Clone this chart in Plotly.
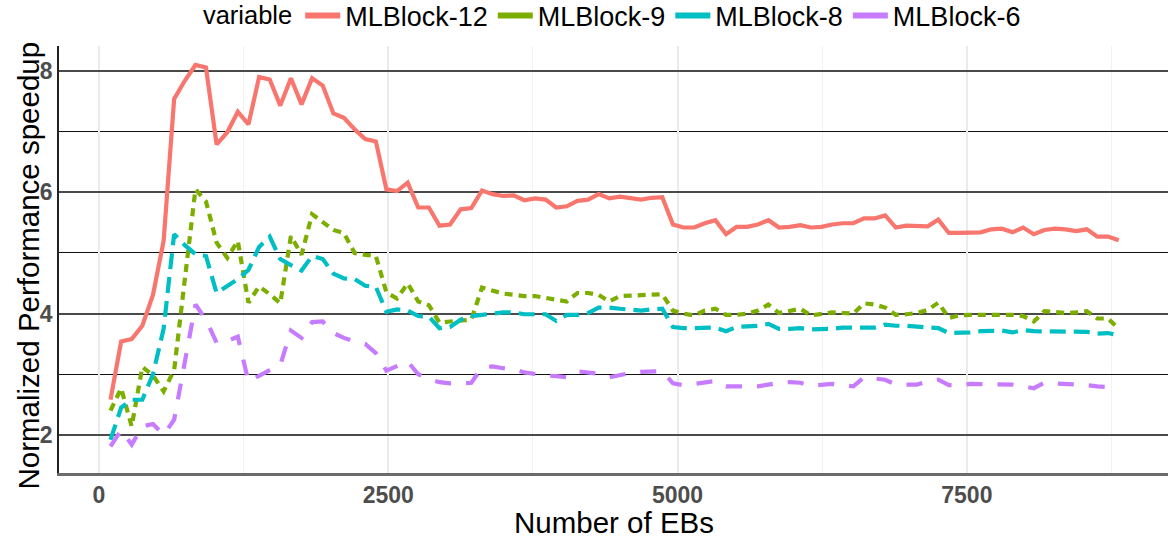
import plotly.graph_objects as go

num_ebs = [100, 192, 283, 375, 467, 559, 650, 742, 834, 925, 1017, 1109, 1200, 1292, 1384, 1476,
           1567, 1659, 1751, 1842, 1934, 2026, 2117, 2209, 2301, 2393, 2484, 2576, 2668, 2759,
           2851, 2943, 3034, 3126, 3218, 3310, 3401, 3493, 3585, 3676, 3768, 3860, 3951, 4043,
           4135, 4227, 4318, 4410, 4502, 4593, 4685, 4777, 4868, 4960, 5052, 5144, 5235, 5327,
           5419, 5510, 5602, 5694, 5785, 5877, 5969, 6061, 6152, 6244, 6336, 6427, 6519, 6611,
           6702, 6794, 6886, 6978, 7069, 7161, 7253, 7344, 7436, 7528, 7619, 7711, 7803, 7895,
           7986, 8078, 8170, 8261, 8353, 8445, 8536, 8628, 8720, 8812]

mlblock_12 = [2.58, 3.54, 3.58, 3.80, 4.31, 5.20, 7.54, 7.84, 8.10, 8.06, 6.79, 6.99, 7.33, 7.12,
              7.90, 7.86, 7.43, 7.88, 7.45, 7.88, 7.76, 7.30, 7.23, 7.04, 6.88, 6.84, 6.05, 6.02,
              6.16, 5.75, 5.75, 5.45, 5.47, 5.72, 5.74, 6.03, 5.97, 5.94, 5.95, 5.87, 5.90, 5.88,
              5.75, 5.77, 5.86, 5.88, 5.97, 5.90, 5.93, 5.90, 5.88, 5.91, 5.92, 5.47, 5.42, 5.42,
              5.49, 5.54, 5.31, 5.43, 5.43, 5.47, 5.54, 5.42, 5.43, 5.46, 5.42, 5.43, 5.47, 5.49,
              5.49, 5.57, 5.57, 5.62, 5.42, 5.45, 5.45, 5.44, 5.55, 5.33, 5.33, 5.34, 5.34, 5.39,
              5.40, 5.34, 5.42, 5.31, 5.38, 5.40, 5.39, 5.36, 5.39, 5.27, 5.27, 5.21]

mlblock_9 = [2.40, 2.77, 2.14, 3.12, 2.98, 2.72, 3.07, 4.56, 6.05, 5.85, 5.17, 4.92, 5.20, 4.18,
             4.45, 4.32, 4.17, 5.28, 4.97, 5.64, 5.50, 5.38, 5.33, 5.00, 4.97, 4.95, 4.35, 4.25,
             4.50, 4.20, 4.14, 3.85, 3.87, 3.88, 3.90, 4.43, 4.38, 4.33, 4.31, 4.29, 4.29, 4.26,
             4.23, 4.20, 4.34, 4.34, 4.31, 4.20, 4.29, 4.30, 4.31, 4.32, 4.32, 4.05, 4.00, 3.97,
             4.05, 4.08, 3.98, 3.98, 4.00, 4.05, 4.15, 4.01, 4.05, 4.08, 3.97, 3.99, 4.02, 4.01,
             4.00, 4.17, 4.15, 4.10, 3.98, 3.99, 4.01, 4.06, 4.18, 3.93, 3.97, 3.98, 3.98, 3.97,
             3.97, 3.98, 3.96, 3.87, 4.04, 4.03, 4.01, 4.02, 4.04, 3.92, 3.92, 3.75]

mlblock_8 = [1.92, 2.45, 2.58, 2.58, 3.00, 3.75, 5.31, 5.13, 4.98, 4.95, 4.34, 4.45, 4.57, 4.72,
             5.10, 5.27, 4.90, 4.80, 4.71, 4.95, 4.90, 4.66, 4.58, 4.57, 4.46, 4.44, 4.03, 4.07,
             4.05, 3.96, 3.95, 3.76, 3.78, 3.90, 3.96, 3.98, 4.00, 4.02, 4.02, 3.99, 3.99, 3.99,
             3.88, 3.98, 3.98, 4.01, 4.10, 4.10, 4.08, 4.06, 4.05, 4.07, 4.08, 3.78, 3.76, 3.76,
             3.77, 3.77, 3.71, 3.78, 3.79, 3.80, 3.83, 3.75, 3.75, 3.76, 3.74, 3.74, 3.75, 3.77,
             3.77, 3.77, 3.77, 3.82, 3.80, 3.80, 3.79, 3.78, 3.76, 3.68, 3.68, 3.69, 3.71, 3.72,
             3.72, 3.69, 3.73, 3.71, 3.71, 3.71, 3.71, 3.71, 3.70, 3.67, 3.68, 3.64]

mlblock_6 = [1.81, 2.08, 1.84, 2.14, 2.18, 2.00, 2.25, 3.17, 4.15, 3.90, 3.52, 3.55, 3.62, 2.88,
             2.98, 3.07, 3.15, 3.72, 3.60, 3.86, 3.87, 3.68, 3.60, 3.54, 3.50, 3.35, 3.06, 3.13,
             3.21, 3.00, 2.92, 2.87, 2.85, 2.85, 2.86, 3.11, 3.13, 3.10, 3.08, 3.03, 3.00, 2.98,
             2.97, 2.95, 3.05, 3.03, 3.01, 2.95, 2.99, 3.02, 3.04, 3.05, 3.05, 2.85, 2.82, 2.84,
             2.87, 2.89, 2.80, 2.80, 2.79, 2.80, 2.83, 2.86, 2.87, 2.86, 2.81, 2.82, 2.84, 2.82,
             2.80, 2.95, 2.93, 2.91, 2.83, 2.83, 2.83, 2.88, 2.91, 2.82, 2.82, 2.84, 2.84, 2.84,
             2.84, 2.83, 2.80, 2.77, 2.86, 2.85, 2.85, 2.83, 2.82, 2.80, 2.79, 2.74]

series_names = ["MLBlock-12", "MLBlock-9", "MLBlock-8", "MLBlock-6"]
series_values = [mlblock_12, mlblock_9, mlblock_8, mlblock_6]
colors = ["#F8766D", "#7CAE00", "#00BFC4", "#C77CFF"]
dashes = ["solid", "8px,6px", "16px,8px", "16px,15px"]

x_ticks = [0, 2500, 5000, 7500]
y_ticks = [2, 4, 6, 8]
x_title = "Number of EBs"
y_title = "Normalized Performance speedup"
legend_title = "variable"

FONT = "Liberation Sans, Arial, sans-serif"

fig = go.Figure()
for name, vals, col, dash in zip(series_names, series_values, colors, dashes):
    fig.add_trace(go.Scatter(x=num_ebs, y=vals, mode="lines", name=name,
                             line=dict(color=col, width=4.2, dash=dash),
                             showlegend=False, hoverinfo="skip"))
for name, col in zip(series_names, colors):
    fig.add_trace(go.Scatter(x=[None], y=[None], mode="lines", name=name,
                             line=dict(color=col, width=6), showlegend=True))

fig.update_layout(
    width=1168, height=540,
    paper_bgcolor="white", plot_bgcolor="white",
    margin=dict(l=59, r=0, t=46, b=67, autoexpand=False),
    font=dict(family=FONT, color="black"),
    legend=dict(orientation="h", xref="container", yref="paper",
                x=0.172, xanchor="left", y=1.128, yanchor="top",
                title=dict(text=legend_title, font=dict(size=25.5, family=FONT, color="black"), side="left"),
                font=dict(size=27, family=FONT, color="black"),
                itemwidth=35, tracegroupgap=0, bgcolor="rgba(0,0,0,0)"),
    xaxis=dict(range=[-345, 9238], tickvals=x_ticks, ticktext=[str(v) for v in x_ticks],
               automargin=False,
               showgrid=True, gridcolor="#ebebeb", gridwidth=1.5,
               minor=dict(tickvals=[1250, 3750, 6250, 8750], showgrid=True, gridcolor="#f2f2f2", gridwidth=1),
               showline=True, linecolor="#6b6b6b", linewidth=2.5, zeroline=False, ticks="",
               tickfont=dict(size=23, family=FONT, color="#4d4d4d", weight="bold")),
    yaxis=dict(range=[1.372, 8.413], tickvals=y_ticks, ticktext=[str(v) for v in y_ticks],
               automargin=False,
               showgrid=True, gridcolor="#4a4a4a", gridwidth=1.6,
               minor=dict(tickvals=[3, 5, 7], showgrid=True, gridcolor="#111111", gridwidth=1.1),
               showline=True, linecolor="#222222", linewidth=1.6, zeroline=False, ticks="",
               tickfont=dict(size=23, family=FONT, color="#4d4d4d", weight="bold")),
    annotations=[
        dict(text=x_title, xref="paper", yref="paper", x=0.5, y=0, xanchor="center", yanchor="middle",
             yshift=-49, showarrow=False, font=dict(size=29.5, family=FONT, color="black")),
        dict(text=y_title, xref="paper", yref="paper", x=0, y=0.5, xanchor="center", yanchor="middle",
             xshift=-31, yshift=-6, textangle=-90, showarrow=False,
             font=dict(size=29.5, family=FONT, color="black")),
    ],
)

fig.write_html("out.html", config={"displayModeBar": False},
               post_script="document.body.style.margin='0px';document.body.style.padding='0px';")
